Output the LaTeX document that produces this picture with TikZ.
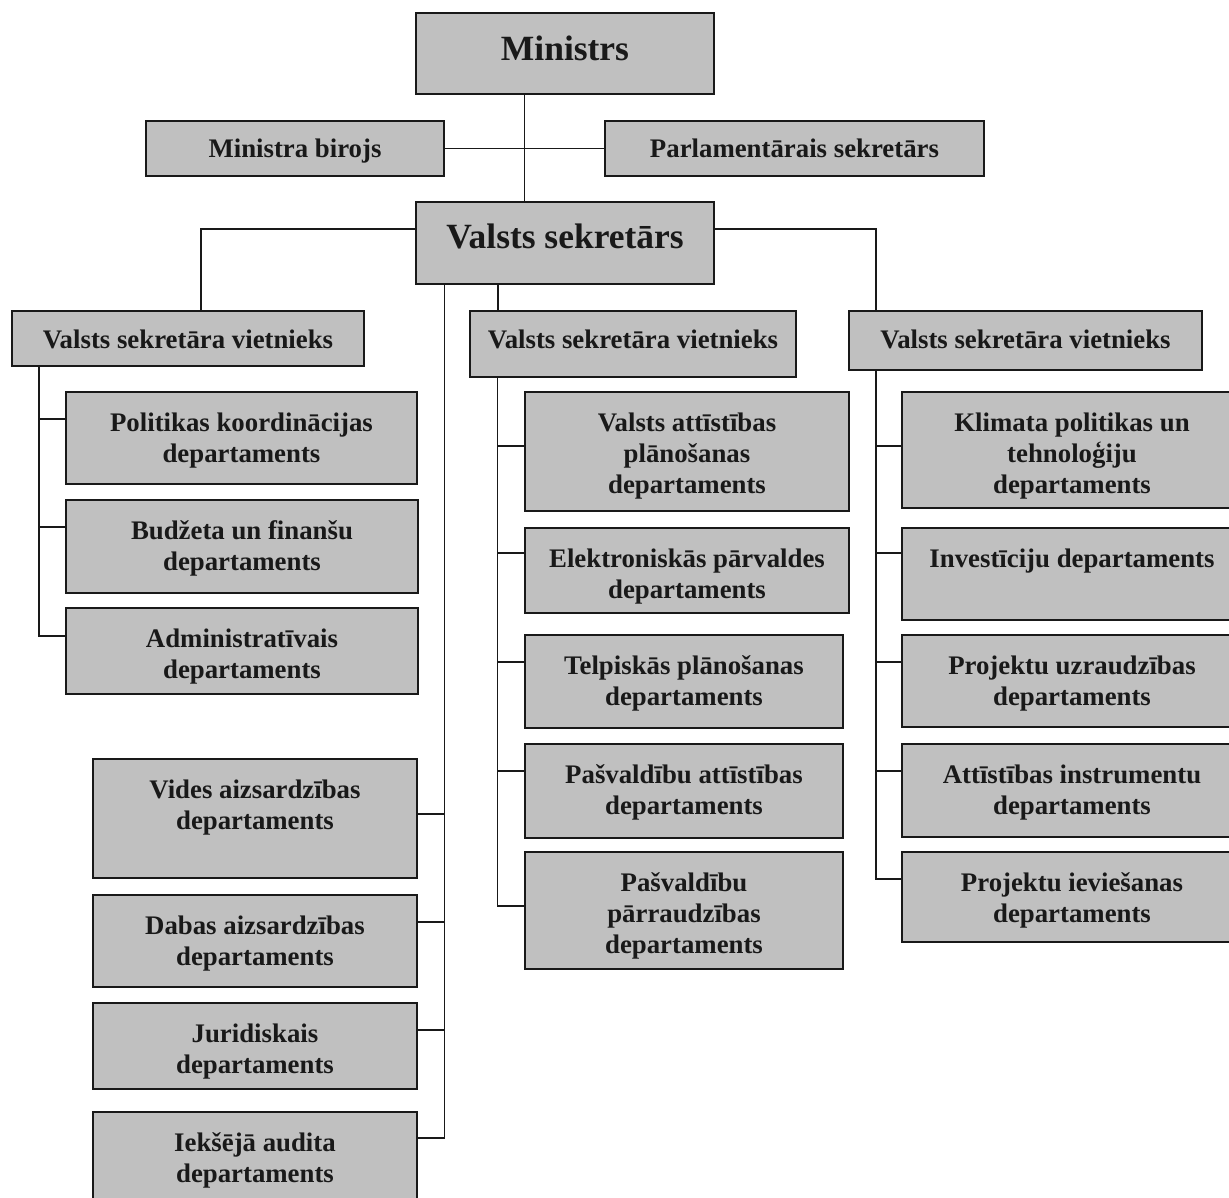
\documentclass[tikz,border=0pt]{standalone}
\usepackage{fontspec}
\setmainfont{Liberation Serif}
\usetikzlibrary{fit}
\definecolor{boxgray}{RGB}{192,192,192}
\definecolor{inkc}{RGB}{25,25,25}
\newcommand\dfont{\fontsize{20.1pt}{23.25pt}\selectfont\bfseries}
\newcommand\bfont{\fontsize{26.6pt}{30pt}\selectfont\bfseries}
\tikzset{
  box/.style={draw=inkc, fill=boxgray, line width=1.6pt, inner sep=0pt, outer sep=0pt},
  lbl/.style={anchor=north, inner sep=0pt, align=center, font=\dfont, text=inkc},
  biglbl/.style={anchor=north, inner sep=0pt, align=center, font=\bfont, text=inkc},
  conn/.style={line width=1.3pt, draw=inkc},
}
% name, x1, y1, x2, y2, shift, text
\newcommand\orgbox[7]{%
  \node[box, fit={(#2,#3) (#4,#5)}] (#1) {};
  \node[lbl, yshift=#6] (#1-t) at (#1.north) {\rule{0pt}{20pt}#7};}
\newcommand\orgbigbox[7]{%
  \node[box, fit={(#2,#3) (#4,#5)}] (#1) {};
  \node[biglbl, yshift=#6] (#1-t) at (#1.north) {\rule{0pt}{28pt}#7};}
\begin{document}
\begin{tikzpicture}[x=0.75pt,y=-0.75pt]
\useasboundingbox (0,0) rectangle (1229,1198);
\clip (0,0) rectangle (1229,1198);
\fill[white] (0,0) rectangle (1229,1198);

% top level
\orgbigbox{Min}{416}{13}{714}{94}{-7.25pt}{Ministrs}
\orgbox{MB}{146}{121}{444}{176}{-7pt}{Ministra birojs}
\orgbox{PS}{605}{121}{984}{176}{-7pt}{Parlamentārais sekretārs}
\orgbigbox{VS}{416}{202}{714}{284}{-6.5pt}{Valsts sekretārs}

% deputies
\orgbox{V1}{12}{311}{364}{366}{-7.75pt}{Valsts sekretāra vietnieks}
\orgbox{V2}{470}{311}{796}{377}{-7.75pt}{Valsts sekretāra vietnieks}
\orgbox{V3}{849}{311}{1202}{370}{-7.75pt}{Valsts sekretāra vietnieks}

% column 1
\orgbox{P1}{66}{392}{417}{484}{-9.25pt}{Politikas koordinācijas\\departaments}
\orgbox{B1}{66}{500}{418}{593}{-9.25pt}{Budžeta un finanšu\\departaments}
\orgbox{A1}{66}{608}{418}{694}{-9.25pt}{Administratīvais\\departaments}

% lower left column
\orgbox{VI}{93}{759}{417}{878}{-9.25pt}{Vides aizsardzības\\departaments}
\orgbox{DA}{93}{895}{417}{987}{-9.25pt}{Dabas aizsardzības\\departaments}
\orgbox{JU}{93}{1003}{417}{1089}{-9.25pt}{Juridiskais\\departaments}
\orgbox{IA}{93}{1112}{417}{1215}{-9.25pt}{Iekšējā audita\\departaments}

% column 2
\orgbox{VA}{525}{392}{849}{511}{-9.25pt}{Valsts attīstības\\plānošanas\\departaments}
\orgbox{EP}{525}{528}{849}{613}{-9.25pt}{Elektroniskās pārvaldes\\departaments}
\orgbox{TP}{525}{635}{843}{728}{-9.25pt}{Telpiskās plānošanas\\departaments}
\orgbox{PA}{525}{744}{843}{838}{-9.25pt}{Pašvaldību attīstības\\departaments}
\orgbox{PP}{525}{852}{843}{969}{-9.25pt}{Pašvaldību\\pārraudzības\\departaments}

% column 3
\orgbox{KL}{902}{392}{1242}{508}{-9.25pt}{Klimata politikas un\\tehnoloģiju\\departaments}
\orgbox{IN}{902}{528}{1242}{620}{-9.25pt}{Investīciju departaments}
\orgbox{PU}{902}{635}{1242}{727}{-9.25pt}{Projektu uzraudzības\\departaments}
\orgbox{AI}{902}{744}{1242}{837}{-9.25pt}{Attīstības instrumentu\\departaments}
\orgbox{PI}{902}{852}{1242}{942}{-9.25pt}{Projektu ieviešanas\\departaments}

% junction coordinates
\coordinate (cMV) at (524.5,0);
\coordinate (jL) at (201,229);
\coordinate (jR) at (876,229);
\coordinate (j2) at (498,0);
\coordinate (j4) at (444.5,0);
\coordinate (k1a) at (39,419);
\coordinate (k1b) at (39,527);
\coordinate (k1c) at (39,636);
\coordinate (k2a) at (497.5,446);
\coordinate (k2b) at (497.5,553);
\coordinate (k2c) at (497.5,662);
\coordinate (k2d) at (497.5,771);
\coordinate (k2e) at (497.5,906);
\coordinate (k3a) at (876,446);
\coordinate (k3b) at (876,553);
\coordinate (k3c) at (876,662);
\coordinate (k3d) at (876,771);
\coordinate (k3e) at (876,879);
\coordinate (kVI) at (444.5,814);
\coordinate (kDA) at (444.5,922);
\coordinate (kJU) at (444.5,1030);
\coordinate (kIA) at (444.5,1138);

% top connectors
\draw[conn] (Min.south -| cMV) -- (VS.north -| cMV);
\draw[conn] (MB.east) -- (PS.west);
\draw[conn] (VS.west |- jL) -| (V1.north -| jL);
\draw[conn] (VS.east |- jR) -| (V3.north -| jR);
\draw[conn] (VS.south -| j2) -- (V2.north -| j2);

% column 1
\draw[conn] (V1.south -| k1a) -- (k1c) -- (A1.west |- k1c);
\draw[conn] (k1a) -- (P1.west |- k1a);
\draw[conn] (k1b) -- (B1.west |- k1b);

% column 2
\draw[conn] (V2.south -| k2a) -- (k2e) -- (PP.west |- k2e);
\draw[conn] (k2a) -- (VA.west |- k2a);
\draw[conn] (k2b) -- (EP.west |- k2b);
\draw[conn] (k2c) -- (TP.west |- k2c);
\draw[conn] (k2d) -- (PA.west |- k2d);

% column 3
\draw[conn] (V3.south -| k3a) -- (k3e) -- (PI.west |- k3e);
\draw[conn] (k3a) -- (KL.west |- k3a);
\draw[conn] (k3b) -- (IN.west |- k3b);
\draw[conn] (k3c) -- (PU.west |- k3c);
\draw[conn] (k3d) -- (AI.west |- k3d);

% lower left trunk
\draw[conn] (VS.south -| j4) -- (kIA) -- (IA.east |- kIA);
\draw[conn] (kVI) -- (VI.east |- kVI);
\draw[conn] (kDA) -- (DA.east |- kDA);
\draw[conn] (kJU) -- (JU.east |- kJU);
\end{tikzpicture}
\end{document}
